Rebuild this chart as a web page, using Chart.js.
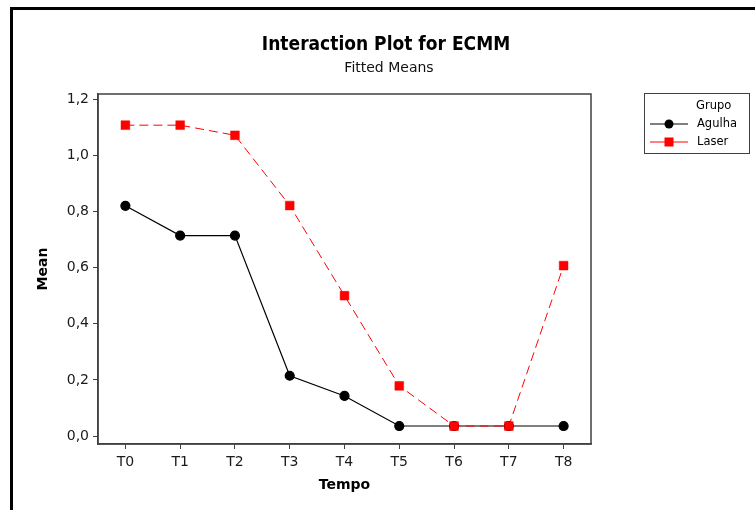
<!DOCTYPE html>
<html>
<head>
<meta charset="utf-8">
<script src="https://cdn.jsdelivr.net/npm/chart.js@4.4.1/dist/chart.umd.min.js"></script>
<style>
  html, body { margin: 0; padding: 0; background: #fff; }
  #wrap { width: 755px; height: 510px; }
</style>
</head>
<body>
<div id="wrap"><canvas id="myChart" width="755" height="510"></canvas></div>
<script>
// categories (Tempo) and fitted means per group
const tempos = ['T0', 'T1', 'T2', 'T3', 'T4', 'T5', 'T6', 'T7', 'T8']
const agulha = [0.82, 0.714, 0.714, 0.215, 0.143, 0.036, 0.036, 0.036, 0.036]
const laser = [1.107, 1.107, 1.071, 0.821, 0.5, 0.179, 0.036, 0.036, 0.607]
const yTicks = [0, 0.2, 0.4, 0.6, 0.8, 1.0, 1.2]

const FONT = 'DejaVu Sans'

// titles, frame, legend and outer border drawn on top of the chart
const extras = {
  id: 'extras',
  afterDraw(chart) {
    const ctx = chart.ctx
    const a = chart.chartArea
    ctx.save()
    // outer border of the graph window
    ctx.strokeStyle = '#000'
    ctx.lineWidth = 3
    ctx.beginPath()
    ctx.moveTo(11.5, 520)
    ctx.lineTo(11.5, 8.5)
    ctx.lineTo(770, 8.5)
    ctx.stroke()

    // plot frame
    ctx.strokeStyle = '#404040'
    ctx.lineWidth = 1.5
    ctx.strokeRect(a.left, a.top, a.right - a.left, a.bottom - a.top)

    // titles
    ctx.fillStyle = '#000'
    ctx.textAlign = 'center'
    ctx.textBaseline = 'middle'
    ctx.font = 'bold 19px "DejaVu Sans Condensed", ' + FONT
    ctx.fillText('Interaction Plot for ECMM', 386, 45)
    ctx.font = '14px ' + FONT
    ctx.fillStyle = '#111'
    ctx.fillText('Fitted Means', 389, 68)

    // axis titles
    ctx.fillStyle = '#000'
    ctx.font = 'bold 14px ' + FONT
    ctx.fillText('Tempo', (a.left + a.right) / 2, 485)
    ctx.save()
    ctx.translate(43, (a.top + a.bottom) / 2)
    ctx.rotate(-Math.PI / 2)
    ctx.fillText('Mean', 0, 0)
    ctx.restore()

    // legend box
    ctx.strokeStyle = '#404040'
    ctx.lineWidth = 1
    ctx.strokeRect(644.5, 93.5, 105, 60)
    ctx.font = '11.5px ' + FONT
    ctx.textAlign = 'left'
    ctx.fillStyle = '#000'
    ctx.fillText('Grupo', 696, 106)
    chart.data.datasets.forEach((ds, i) => {
      const y = 124 + i * 18
      ctx.strokeStyle = ds.borderColor
      ctx.lineWidth = 1
      ctx.setLineDash([])
      ctx.beginPath()
      ctx.moveTo(650, y)
      ctx.lineTo(688, y)
      ctx.stroke()
      ctx.fillStyle = ds.pointBackgroundColor
      if (ds.pointStyle === 'rect') {
        ctx.fillRect(669 - 4.5, y - 4.5, 9, 9)
      } else {
        ctx.beginPath()
        ctx.arc(669, y, 4.5, 0, Math.PI * 2)
        ctx.fill()
      }
      ctx.fillStyle = '#000'
      ctx.fillText(ds.label, 697, y)
    })
    ctx.restore()
  }
}

const ctx = document.getElementById('myChart').getContext('2d')
const chart = new Chart(ctx, {
  type: 'line',
  data: {
    labels: tempos,
    datasets: [{
      label: 'Agulha',
      data: agulha,
      order: 1,
      borderColor: '#000000',
      backgroundColor: '#000000',
      pointBackgroundColor: '#000000',
      pointBorderColor: '#000000',
      pointStyle: 'circle',
      pointRadius: 4.5,
      borderWidth: 1.2,
      tension: 0
    }, {
      label: 'Laser',
      data: laser,
      order: 0,
      borderColor: '#ff0000',
      backgroundColor: '#ff0000',
      pointBackgroundColor: '#ff0000',
      pointBorderColor: '#ff0000',
      pointStyle: 'rect',
      pointRadius: 6.2,
      pointBorderWidth: 0.5,
      borderWidth: 1,
      borderDash: [9, 5],
      tension: 0
    }]
  },
  options: {
    responsive: false,
    animation: false,
    events: [],
    layout: { padding: { left: 12, top: 94, right: 164, bottom: 0 } },
    plugins: {
      legend: { display: false },
      title: { display: false },
      tooltip: { enabled: false }
    },
    scales: {
      x: {
        type: 'category',
        offset: true,
        grid: { drawOnChartArea: false, tickLength: 5, color: '#404040', offset: false },
        border: { color: '#404040', width: 1.5 },
        ticks: { padding: 5, color: '#1a1a1a', font: { family: FONT, size: 14 } },
        afterFit(s) { s.height = 66 }
      },
      y: {
        min: -0.028,
        max: 1.218,
        afterBuildTicks(s) { s.ticks = yTicks.map(v => ({ value: v })) },
        grid: { drawOnChartArea: false, tickLength: 5, color: '#404040' },
        border: { color: '#404040', width: 1.5 },
        ticks: {
          padding: 4,
          color: '#1a1a1a',
          font: { family: FONT, size: 14 },
          callback: v => v.toFixed(1).replace('.', ',')
        },
        afterFit(s) { s.width = 86 }
      }
    }
  },
  plugins: [extras]
})
</script>
</body>
</html>
